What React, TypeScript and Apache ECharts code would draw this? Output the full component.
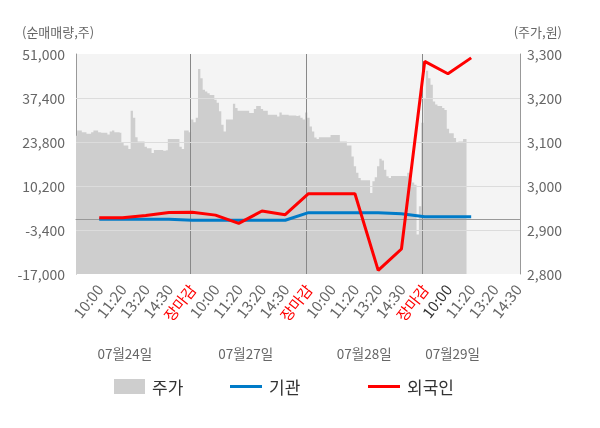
import React, { useEffect, useRef } from 'react';
import * as echarts from 'echarts';

const dayLabels = ['07월24일', '07월27일', '07월28일', '07월29일'];
const xTickLabels = [
  '10:00', '11:20', '13:20', '14:30', '장마감',
  '10:00', '11:20', '13:20', '14:30', '장마감',
  '10:00', '11:20', '13:20', '14:30', '장마감',
  '10:00', '11:20', '13:20', '14:30',
];
const tickStep = 10;
const categoryCount = 192;
const dayBoundaryIdx = [49, 99, 149];
const axisTickIdx = [0, 49, 99, 149, 191];
const dateLabelIdx = [21, 73, 124, 162];
const highlightTickIdx = [15];

const leftAxisRange = [-17000, 51000];
const leftInterval = 13600;
const rightAxisRange = [2800, 3300];
const rightInterval = 100;
const gridLineValues = [-3400, 10200, 23800, 37400];

const price = [
  3114, 3126, 3126, 3122, 3122, 3119, 3119, 3122, 3126, 3126,
  3122, 3121, 3121, 3121, 3117, 3124, 3126, 3122, 3122, 3121,
  3100, 3092, 3092, 3084, 3171, 3155, 3111, 3101, 3101, 3101,
  3089, 3086, 3086, 3075, 3082, 3082, 3082, 3082, 3080, 3081,
  3107, 3107, 3107, 3107, 3107, 3089, 3084, 3126, 3126, 3122,
  3151, 3145, 3155, 3266, 3245, 3219, 3215, 3211, 3207, 3207,
  3196, 3189, 3170, 3139, 3124, 3151, 3151, 3151, 3187, 3177,
  3171, 3171, 3171, 3171, 3171, 3166, 3166, 3175, 3182, 3182,
  3175, 3171, 3171, 3162, 3162, 3162, 3162, 3158, 3167, 3162,
  3162, 3162, 3160, 3160, 3160, 3159, 3160, 3155, 3151, 3167,
  3155, 3135, 3124, 3110, 3107, 3111, 3111, 3111, 3111, 3111,
  3116, 3116, 3116, 3116, 3101, 3101, 3101, 3092, 3092, 3067,
  3045, 3030, 3018, 3013, 3013, 3013, 3013, 2984, 3011, 3020,
  3045, 3062, 3058, 3037, 3022, 3018, 3023, 3023, 3023, 3023,
  3023, 3023, 3022, 3030, 3015, 3008, 3003, 2890, 2954, 3144,
  3200, 3262, 3245, 3230, 3192, 3185, 3182, 3182, 3177, 3173,
  3130, 3120, 3120, 3109, 3098, 3101, 3101, 3107, 3107,
];
const institution = [-100, -100, -100, -100, -400, -400, -400, -400, -400, 1950, 1950, 1950, 1950, 1640, 700, 700, 700];
const foreign = [400, 400, 1100, 2040, 2100, 1200, -1360, 2470, 1330, 7820, 7820, 7820, -15890, -9270, 48700, 44900, 49800];

const categories = Array.from({ length: categoryCount }, (_, i) => String(i));
const toSparse = (vals: number[]) =>
  categories.map((_, i) => {
    const k = i / tickStep;
    return Number.isInteger(k) && k >= 1 && k <= vals.length ? vals[k - 1] : null;
  });

const FONT = "'Noto Sans CJK KR', 'Noto Sans', sans-serif";
const fmt = (v: number) => v.toLocaleString('en-US');

export default function App() {
  const ref = useRef<HTMLDivElement>(null);
  useEffect(() => {
    const chart = echarts.init(ref.current!, undefined, { renderer: 'svg' });
    const lineMarkBase = {
      silent: true,
      symbol: ['none', 'none'],
      label: { show: false },
      emphasis: { disabled: true },
      z: 2,
    };
    chart.setOption({
      animation: false,
      textStyle: { fontFamily: FONT },
      title: [
        { text: '(순매매량,주)', left: 22, top: 25, padding: 0, textStyle: { fontSize: 13, fontWeight: 'normal', color: '#666', fontFamily: FONT } },
        { text: '(주가,원)', right: 38, top: 25, padding: 0, textStyle: { fontSize: 13, fontWeight: 'normal', color: '#666', fontFamily: FONT } },
      ],
      grid: { left: 76, right: 80, top: 54, bottom: 154, show: true, backgroundColor: '#f4f4f4', borderWidth: 0 },
      legend: [
        { left: 114, top: 378, padding: 0, icon: 'rect', itemWidth: 31, itemHeight: 15, data: [{ name: '주가', itemStyle: { color: '#cecece', borderWidth: 0 } }], textStyle: { fontSize: 17, color: '#333', fontFamily: FONT, padding: [0, 0, 0, 2] }, selectedMode: false },
        { left: 230, top: 378, padding: 0, icon: 'rect', itemWidth: 32, itemHeight: 3, data: [{ name: '기관', itemStyle: { color: '#007bc8', borderWidth: 0 } }], textStyle: { fontSize: 17, color: '#333', fontFamily: FONT, padding: [0, 0, 0, 2] }, selectedMode: false },
        { left: 368, top: 378, padding: 0, icon: 'rect', itemWidth: 32, itemHeight: 3, data: [{ name: '외국인', itemStyle: { color: '#ff0000', borderWidth: 0 } }], textStyle: { fontSize: 17, color: '#333', fontFamily: FONT, padding: [0, 0, 0, 2] }, selectedMode: false },
      ],
      xAxis: [
        {
          type: 'category',
          data: categories,
          boundaryGap: false,
          axisLine: { show: true, lineStyle: { color: '#999' } },
          axisTick: { show: true, length: 4, interval: (i: number) => axisTickIdx.includes(i), lineStyle: { color: '#999' } },
          splitLine: { show: false },
          axisLabel: {
            interval: (i: number) => i % tickStep === 0 && i > 0 && i / tickStep <= xTickLabels.length,
            formatter: (_v: string, i: number) => xTickLabels[i / tickStep - 1] ?? '',
            rotate: 52,
            margin: 12,
            fontSize: 15,
            fontFamily: FONT,
            color: (v: string) => {
              const k = Number(v) / tickStep - 1;
              if (xTickLabels[k] === '장마감') return '#ff0000';
              if (highlightTickIdx.includes(k)) return '#333';
              return '#666';
            },
          },
        },
        {
          type: 'category',
          data: categories,
          boundaryGap: false,
          position: 'bottom',
          offset: 64,
          axisLine: { show: false },
          axisTick: { show: false },
          splitLine: { show: false },
          axisLabel: {
            interval: (i: number) => dateLabelIdx.includes(i),
            formatter: (_v: string, i: number) => dayLabels[dateLabelIdx.indexOf(i)] ?? '',
            fontSize: 13.5,
            color: '#666',
            fontFamily: FONT,
            margin: 8,
          },
        },
      ],
      yAxis: [
        {
          type: 'value',
          min: leftAxisRange[0],
          max: leftAxisRange[1],
          interval: leftInterval,
          axisLine: { show: true, lineStyle: { color: '#999' } },
          axisTick: { show: false },
          splitLine: { show: false },
          axisLabel: { formatter: fmt, fontSize: 14, color: '#666', margin: 11, fontFamily: FONT },
        },
        {
          type: 'value',
          min: rightAxisRange[0],
          max: rightAxisRange[1],
          interval: rightInterval,
          position: 'right',
          axisLine: { show: true, lineStyle: { color: '#999' } },
          axisTick: { show: false },
          splitLine: { show: false },
          axisLabel: { formatter: fmt, fontSize: 14, color: '#666', margin: 7, fontFamily: FONT },
        },
      ],
      series: [
        {
          name: '주가',
          type: 'line',
          xAxisIndex: 0,
          yAxisIndex: 1,
          data: price,
          step: 'middle',
          symbol: 'none',
          color: '#cecece',
          lineStyle: { width: 0, color: '#cecece' },
          areaStyle: { color: '#cecece', opacity: 1, origin: 'start' },
          z: 1,
          silent: true,
          markLine: {
            ...lineMarkBase,
            lineStyle: { color: '#888', width: 1, type: 'solid' },
            data: dayBoundaryIdx.map((i) => ({ xAxis: categories[i] })),
          },
        },
        {
          name: '기관',
          type: 'line',
          xAxisIndex: 0,
          yAxisIndex: 0,
          data: toSparse(institution),
          connectNulls: true,
          symbol: 'none',
          color: '#007bc8',
          lineStyle: { width: 3, color: '#007bc8' },
          z: 3,
          markLine: {
            ...lineMarkBase,
            lineStyle: { color: '#dcdcdc', width: 1, type: 'solid' },
            data: [
              ...gridLineValues.map((v) => ({ yAxis: v })),
              { yAxis: 0, lineStyle: { color: '#999', width: 1, type: 'solid' } },
            ],
          },
        },
        {
          name: '외국인',
          type: 'line',
          xAxisIndex: 0,
          yAxisIndex: 0,
          data: toSparse(foreign),
          connectNulls: true,
          symbol: 'none',
          color: '#ff0000',
          lineStyle: { width: 3, color: '#ff0000' },
          z: 4,
        },
      ],
    });
    return () => chart.dispose();
  }, []);
  return <div ref={ref} style={{ position: 'fixed', left: 0, top: 0, width: 600, height: 428 }} />;
}
